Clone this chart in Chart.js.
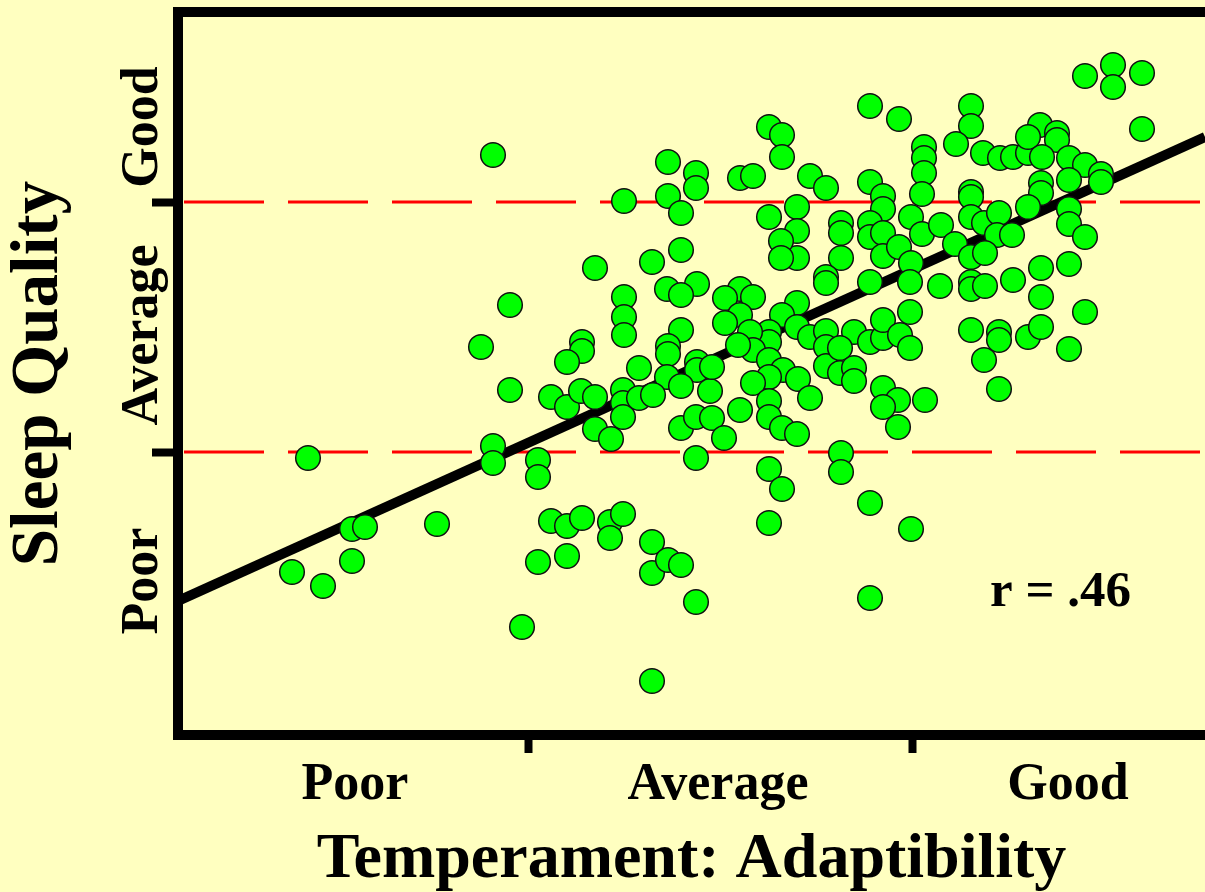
<!DOCTYPE html>
<html>
<head>
<meta charset="utf-8">
<script src="https://cdn.jsdelivr.net/npm/chart.js@4.4.1/dist/chart.umd.min.js"></script>
<style>
  html, body { margin: 0; padding: 0; background: #ffffc0; }
  canvas { display: block; }
</style>
</head>
<body>
<canvas id="sleep-chart" width="1205" height="892"></canvas>
<script>
// axis ranges and ticks (score units)
const xRange = [0, 10.27];
const yRange = [0, 7.23];
const xTickValues = [1.77, 3.50, 5.40, 7.34, 8.90];
const xTickLabels = ['Poor', '', 'Average', '', 'Good'];
const yTickValues = [2.83, 5.33];
const yCategoryValues = [1.54, 4.00, 6.08];
const yCategoryLabels = ['Poor', 'Average', 'Good'];
const cutoffLevels = [2.83, 5.33];
const fitX = [0, 10.27];
const fitY = [1.34, 5.98];
const rLabel = 'r = .46';
const rPos = [8.12, 1.29];

const adaptability = [
  1.30,1.74,1.87,2.59,1.74,1.14,1.45,3.15,3.15,3.03,3.32,3.32,3.15,
  4.90,5.18,5.18,4.46,4.90,5.03,5.03,4.74,4.17,
  4.89,5.19,5.03,4.46,4.46,4.46,5.03,4.90,4.90,4.04,4.04,3.89,4.61,5.19,5.19,4.89,5.03,3.73,3.89,4.03,4.17,4.45,4.45,4.45,4.61,4.75,4.17,4.33,5.03,5.18,5.32,5.18,3.60,3.60,
  3.73,3.89,4.04,4.32,4.32,4.45,3.60,3.89,4.74,4.74,4.90,5.03,5.18,3.44,4.74,
  6.92,7.21,5.91,6.04,6.04,5.62,5.75,6.32,6.48,6.92,7.05,7.05,7.46,7.46,7.46,7.44,6.19,5.91,6.19,6.19,6.03,6.03,6.63,6.63,6.63,6.92,6.92,7.05,7.05,7.21,7.33,7.44,7.33,
  5.62,5.75,5.47,5.62,5.47,6.48,6.48,6.92,7.32,6.19,6.04,6.19,6.32,5.91,5.91,5.72,5.75,5.60,6.48,6.48,6.48,6.76,6.62,6.92,7.05,7.05,7.22,7.32,7.32,5.91,6.05,5.91,5.75,6.20,6.62,6.76,6.76,5.34,5.34,5.62,5.91,5.91,6.32,6.04,6.19,5.46,7.05,7.20,7.05,7.20,7.47,5.91,6.63,6.63,
  6.04,5.91,6.92,7.33,6.92,
  9.07,9.35,9.35,9.64,9.64,7.93,7.93,7.78,8.05,8.22,8.35,8.50,8.62,8.79,8.79,8.50,8.64,8.91,9.07,9.23,9.23,7.93,7.93,7.93,8.06,8.21,8.63,8.63,8.91,8.50,8.91,8.91,9.07,7.63,7.77,8.19,8.34,7.93,8.07,8.63,8.91,
  7.62,7.93,7.93,8.07,8.35,8.63,9.07,7.93,8.21,8.21,8.50,8.63,8.91,8.06,8.21
];
const sleepQuality = [
  2.77,2.06,2.08,2.11,1.74,1.63,1.49,2.89,2.72,3.88,4.30,3.45,5.80,
  5.73,5.62,5.47,5.34,5.39,5.22,4.85,4.73,4.67,
  4.46,4.51,4.40,4.38,4.18,4.00,4.05,3.89,3.81,3.93,3.84,3.73,3.67,3.73,3.65,3.58,3.49,3.38,3.28,3.44,3.38,3.45,3.32,3.18,3.37,3.40,3.06,2.96,3.07,3.18,3.44,2.77,2.75,2.58,
  2.14,2.09,2.17,2.13,1.97,2.21,1.73,1.79,1.93,1.62,1.75,1.70,1.33,1.08,0.54,
  6.29,6.16,6.08,6.00,5.78,5.57,5.59,5.59,5.47,5.53,5.39,5.26,5.88,5.77,5.62,5.41,5.28,5.18,5.04,4.77,4.94,4.77,5.12,5.02,4.77,5.12,4.98,5.02,4.79,4.88,5.18,5.01,4.72,
  4.46,4.38,4.37,4.20,4.12,4.58,4.52,4.53,4.53,4.32,4.20,4.08,3.98,4.03,3.93,4.03,3.85,3.90,4.04,3.88,3.69,4.03,3.87,3.93,3.97,4.15,4.00,3.87,4.23,3.75,3.65,3.58,3.52,3.56,3.62,3.67,3.54,3.68,3.17,3.25,3.34,3.18,3.37,3.07,3.01,2.97,3.47,3.35,3.28,3.08,3.35,2.66,2.82,2.63,
  2.46,2.12,2.32,2.06,1.37,
  6.59,6.70,6.48,6.62,6.06,6.29,6.09,5.91,5.82,5.77,5.78,5.82,6.10,6.02,5.95,5.98,5.78,5.77,5.70,5.61,5.53,5.43,5.38,5.18,5.12,5.22,5.52,5.42,5.55,5.28,5.26,5.11,4.98,5.10,4.91,5.00,5.00,4.78,4.82,4.67,4.71,
  4.49,4.53,4.46,4.49,4.55,4.38,4.23,4.05,4.03,3.95,3.98,4.08,3.86,3.75,3.46
];

const bgColor = '#ffffc0';
const serif = '"Liberation Serif", "Times New Roman", serif';

const decorations = {
  id: 'decorations',
  beforeDraw(chart) {
    const c = chart.ctx;
    c.save();
    c.fillStyle = bgColor;
    c.fillRect(0, 0, chart.width, chart.height);
    c.restore();
  },
  afterDraw(chart) {
    const c = chart.ctx;
    const area = chart.chartArea;
    const xs = chart.scales.x;
    const ys = chart.scales.y;
    c.save();
    // top frame line with rounded corner
    c.strokeStyle = '#000';
    c.lineWidth = 10;
    c.lineJoin = 'round';
    c.beginPath();
    c.moveTo(area.left, area.top + 40);
    c.lineTo(area.left, area.top);
    c.lineTo(area.right + 5, area.top);
    c.stroke();
    // rotated category labels for sleep quality
    c.fillStyle = '#000';
    c.font = 'bold 52px ' + serif;
    c.textAlign = 'center';
    c.textBaseline = 'alphabetic';
    yCategoryLabels.forEach((t, i) => {
      c.save();
      c.translate(area.left - 21, ys.getPixelForValue(yCategoryValues[i]));
      c.rotate(-Math.PI / 2);
      c.fillText(t, 0, 0);
      c.restore();
    });
    c.font = 'bold 51px ' + serif;
    c.textAlign = 'left';
    c.fillText(rLabel, xs.getPixelForValue(rPos[0]), ys.getPixelForValue(rPos[1]));
    c.restore();
  }
};

let points = adaptability.map((v, i) => ({x: v, y: sleepQuality[i]}));

let datasets = [{
  label: 'children',
  data: points,
  backgroundColor: '#00ff00',
  borderColor: '#111111',
  borderWidth: 1.5,
  pointRadius: 12.3,
  order: 0
}, {
  label: 'fit',
  data: fitX.map((v, i) => ({x: v, y: fitY[i]})),
  showLine: true,
  borderColor: '#000000',
  borderWidth: 10,
  pointRadius: 0,
  order: 1
}];
cutoffLevels.forEach(level => {
  datasets.push({
    label: 'cutoff',
    data: [{x: xRange[0], y: level}, {x: xRange[1], y: level}],
    showLine: true,
    borderColor: '#ff0000',
    borderWidth: 3,
    borderDash: [80, 24],
    borderDashOffset: -6,
    pointRadius: 0,
    order: 2
  });
});

let ctx = document.getElementById('sleep-chart').getContext('2d');
new Chart(ctx, {
  type: 'scatter',
  data: { datasets: datasets },
  options: {
    responsive: false,
    animation: false,
    devicePixelRatio: 1,
    layout: { autoPadding: false, padding: { top: 12, left: 0, right: 0, bottom: 0 } },
    plugins: { legend: { display: false }, tooltip: { enabled: false } },
    scales: {
      x: {
        type: 'linear',
        min: xRange[0],
        max: xRange[1],
        afterBuildTicks: s => { s.ticks = xTickValues.map(v => ({value: v})); },
        ticks: {
          autoSkip: false,
          maxRotation: 0,
          padding: 7,
          color: '#000',
          font: { family: serif, size: 52, weight: 'bold', lineHeight: 1.0 },
          callback: (v, i) => xTickLabels[i]
        },
        grid: {
          drawOnChartArea: false,
          tickLength: 18,
          tickWidth: 8,
          tickColor: c => (xTickLabels[c.index] === '' ? '#000' : 'rgba(0,0,0,0)')
        },
        border: { color: '#000', width: 10 },
        title: {
          display: true,
          text: 'Temperament: Adaptibility',
          color: '#000',
          font: { family: serif, size: 64, weight: 'bold', lineHeight: 1.0 },
          padding: { top: 9, bottom: 0 }
        }
      },
      y: {
        type: 'linear',
        min: yRange[0],
        max: yRange[1],
        afterBuildTicks: s => { s.ticks = yTickValues.map(v => ({value: v})); },
        ticks: { display: false },
        grid: {
          drawOnChartArea: false,
          tickLength: 26,
          tickWidth: 8,
          tickColor: '#000'
        },
        border: { color: '#000', width: 10 },
        title: {
          display: true,
          text: 'Sleep Quality',
          color: '#000',
          font: { family: serif, size: 67, weight: 'bold', lineHeight: 1.1 },
          padding: { top: 3, bottom: 75.3 }
        }
      }
    }
  },
  plugins: [decorations]
});
</script>
</body>
</html>
